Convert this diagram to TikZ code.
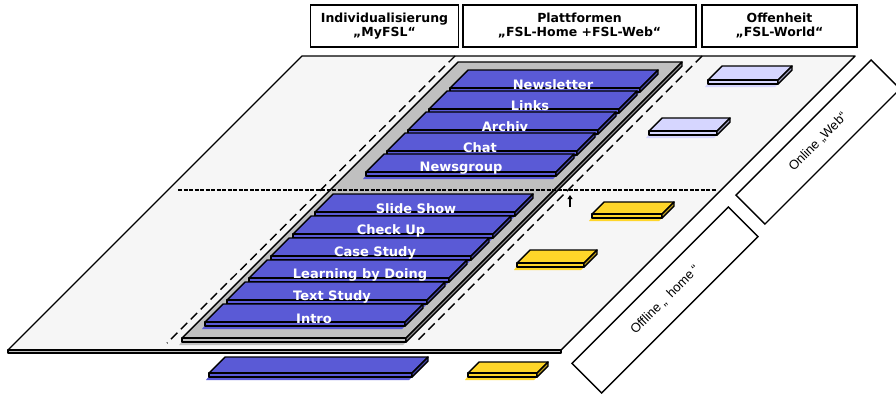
\documentclass[tikz,border=0pt]{standalone}
\usepackage{fontspec}
\setmainfont{DejaVu Sans}
\newfontfamily\narrowfont{Liberation Sans}
\usepackage{tikz}
\usetikzlibrary{arrows.meta}
\usepackage{xcolor}
\definecolor{fsl-blue}{RGB}{90,90,214}
\definecolor{fsl-lilac}{RGB}{214,214,255}
\definecolor{fsl-yellow}{RGB}{255,214,41}
\definecolor{fsl-tray}{RGB}{192,192,192}
\definecolor{fsl-plane}{RGB}{246,246,246}

\tikzset{
	slabline/.style={draw=black, line width=1.4pt, line join=round},
	barlabel/.style={text=white, font=\bfseries\fontsize{13}{14}\selectfont, inner sep=0pt},
	hdrbox/.style={draw, line width=1.4pt, align=center, font=\bfseries\fontsize{12.5}{14}\selectfont},
	sidebox/.style={draw, line width=1.4pt, fill=white, font=\narrowfont\fontsize{13}{14}\selectfont},
	guide/.style={line width=1.4pt, dash pattern=on 9pt off 5pt}
}

% slab: top-left x, top-right x, top y, front y, thickness, colour
\newcommand{\slab}[6]{%
	\pgfmathsetmacro{\slabd}{(#4)-(#3)}%
	\fill[#6] ({#1-\slabd-3},{#4+#5+3}) -- ({#1-3},{#3+3}) -- ({#2-3},{#3+3}) -- ({#2-3},{#3+#5+3}) -- ({#2-\slabd-3},{#4+#5+3}) -- cycle;
	\filldraw[slabline, fill=#6] (#1,#3) -- (#2,#3) -- ({#2-\slabd},#4) -- ({#1-\slabd},#4) -- cycle;
	\filldraw[slabline, fill=#6] ({#1-\slabd},#4) rectangle ({#2-\slabd},{#4+#5});
	\filldraw[slabline, fill=#6!75!black] ({#2-\slabd},#4) -- (#2,#3) -- (#2,{#3+#5}) -- ({#2-\slabd},{#4+#5}) -- cycle;
}
% module bar: name, top-left x, top-right x, top y, label x, text
\newcommand{\modbar}[6]{%
	\slab{#2}{#3}{#4}{#4+18}{4}{fsl-blue}
	\node[barlabel] (#1) at (#5,{#4+14.5}) {#6};
}

\begin{document}
\begin{tikzpicture}[x=1pt,y=-1pt]
	\useasboundingbox (0,0) rectangle (896,394);

	% ground plane
	\filldraw[slabline, fill=fsl-plane] (302,56) -- (855,56) -- (561,350) -- (8,350) -- cycle;
	\filldraw[slabline, fill=fsl-tray] (8,350) rectangle (561,353);

	% platform borders
	\draw[guide] (455,56) -- (167,343);
	\draw[guide] (702,56) -- (415,343);

	% platform tray
	\slab{458}{682}{62}{338}{4}{fsl-tray}

	% web / home split
	\draw[line width=1.5pt, dash pattern=on 4pt off 1.5pt] (178,190) -- (716,190);
	\draw[line width=1.2pt, -{Triangle[length=4pt,width=5pt]}] (570,207) -- (570,195);

	% web modules
	\modbar{newsletter}{468}{658}{70}{553}{Newsletter}
	\modbar{links}{447}{637}{91}{530}{Links}
	\modbar{archiv}{426}{616}{112}{505}{Archiv}
	\modbar{chat}{405}{595}{133}{480}{Chat}
	\modbar{newsgroup}{384}{574}{154}{461}{Newsgroup}

	% home modules
	\modbar{slideshow}{333}{533}{194}{416}{Slide Show}
	\modbar{checkup}{311}{511}{216}{391}{Check Up}
	\modbar{casestudy}{289}{489}{238}{375}{Case Study}
	\modbar{learning}{267}{467}{260}{360}{Learning by Doing}
	\modbar{textstudy}{245}{445}{282}{332}{Text Study}
	\modbar{intro}{223}{423}{304}{314}{Intro}

	% loose modules
	\slab{722}{792}{66}{80}{4}{fsl-lilac}
	\slab{662}{730}{118}{131}{4}{fsl-lilac}
	\slab{604}{674}{202}{214}{4}{fsl-yellow}
	\slab{530}{597}{250}{263}{4}{fsl-yellow}
	\slab{479}{548}{362}{373}{4}{fsl-yellow}
	\slab{225}{428}{357}{373}{4}{fsl-blue}

	% side labels
	\node[sidebox, minimum width=191, minimum height=41, rotate=45] (online) at (818,142) {Online „Web“};
	\node[sidebox, minimum width=221, minimum height=42, rotate=45] (offline) at (665,300) {Offline „\hspace{6pt}home\hspace{3pt}“};

	% headers
	\node[hdrbox, minimum width=148, minimum height=42] (myfsl) at (384.5,26) {Individualisierung\\„MyFSL“};
	\node[hdrbox, minimum width=233, minimum height=42] (platform) at (579.5,26) {Plattformen\\„FSL-Home +FSL-Web“};
	\node[hdrbox, minimum width=155, minimum height=42] (world) at (779.5,26) {Offenheit\\„FSL-World“};
\end{tikzpicture}
\end{document}
